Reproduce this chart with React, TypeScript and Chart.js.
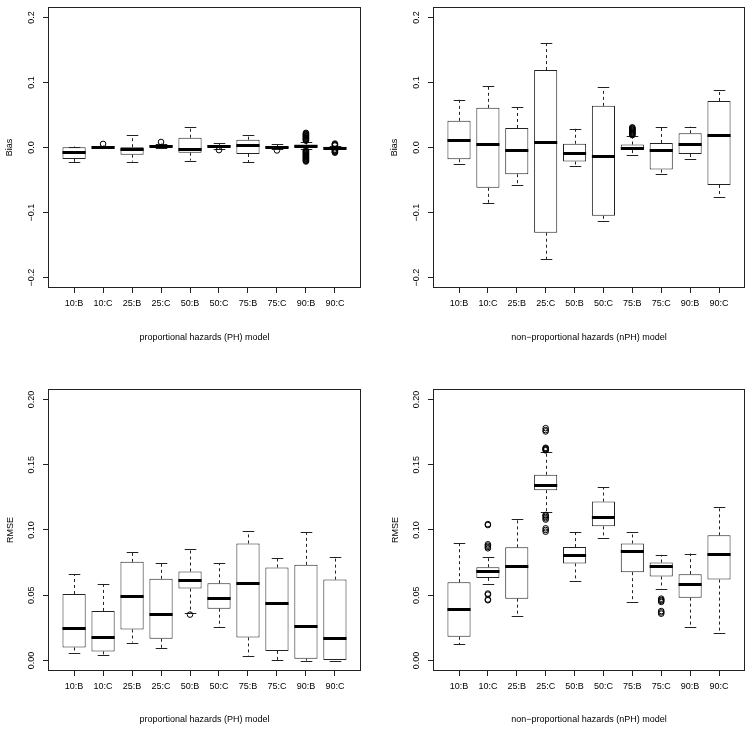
import React, { useEffect, useRef } from "react";
import { Chart, registerables } from "chart.js";

Chart.register(...registerables);

const FONT = '"Liberation Sans", Arial, Helvetica, sans-serif';
const LINE = "#222";

const CATEGORIES = ["10:B", "10:C", "25:B", "25:C", "50:B", "50:C", "75:B", "75:C", "90:B", "90:C"];

const BIAS_TICKS = [-0.2, -0.1, 0, 0.1, 0.2];
const BIAS_TICK_LABELS = ["\u22120.2", "\u22120.1", "0.0", "0.1", "0.2"];
const RMSE_TICKS = [0, 0.05, 0.1, 0.15, 0.2];
const RMSE_TICK_LABELS = ["0.00", "0.05", "0.10", "0.15", "0.20"];

// ---- PH model, Bias ----
const PH_BIAS_WLO = [-0.0227, -0.001, -0.0216, -0.001, -0.02, -0.002, -0.0227, -0.003, -0.003, -0.002];
const PH_BIAS_Q1 = [-0.0175, 0.0, -0.011, 0.001, -0.008, 0.0, -0.01, -0.001, 0.0005, -0.001];
const PH_BIAS_MED = [-0.0062, 0.001, -0.003, 0.0025, -0.002, 0.002, 0.0036, 0.0005, 0.0025, 0.0];
const PH_BIAS_Q3 = [0.0005, 0.002, 0.0005, 0.004, 0.015, 0.004, 0.012, 0.002, 0.0045, 0.001];
const PH_BIAS_WHI = [0.0015, 0.003, 0.0185, 0.006, 0.032, 0.007, 0.0185, 0.005, 0.009, 0.002];
const PH_BIAS_OUT = [
  [],
  [0.0055],
  [],
  [0.0085],
  [],
  [-0.004],
  [],
  [-0.0045],
  [0.0105, 0.0115, 0.0125, 0.0135, 0.0145, 0.0155, 0.0165, 0.0175, 0.0185, 0.0195, 0.0205, 0.0215, 0.0225,
    -0.0045, -0.0055, -0.0065, -0.0075, -0.0085, -0.0095, -0.0105, -0.0115, -0.0125, -0.0135, -0.0145, -0.0155, -0.0165, -0.0175, -0.0185, -0.0195, -0.0205, -0.0215],
  [0.003, 0.004, 0.005, 0.006, -0.003, -0.004, -0.005, -0.006, -0.007, -0.008],
];

// ---- nPH model, Bias ----
const NPH_BIAS_WLO = [-0.025, -0.085, -0.0575, -0.172, -0.029, -0.113, -0.012, -0.04, -0.017, -0.076];
const NPH_BIAS_Q1 = [-0.018, -0.062, -0.041, -0.131, -0.0216, -0.105, -0.004, -0.034, -0.01, -0.0576];
const NPH_BIAS_MED = [0.0113, 0.0057, -0.004, 0.008, -0.009, -0.013, 0.0, -0.004, 0.0057, 0.0195];
const NPH_BIAS_Q3 = [0.041, 0.061, 0.03, 0.119, 0.0057, 0.064, 0.0046, 0.007, 0.022, 0.0715];
const NPH_BIAS_WHI = [0.0735, 0.095, 0.062, 0.161, 0.029, 0.0925, 0.0175, 0.031, 0.032, 0.089];
const NPH_BIAS_OUT = [
  [], [], [], [], [], [],
  [0.019, 0.02, 0.021, 0.022, 0.023, 0.024, 0.025, 0.026, 0.027, 0.028, 0.029, 0.03, 0.031],
  [], [], [],
];

// ---- PH model, RMSE ----
const PH_RMSE_WLO = [0.0056, 0.004, 0.0138, 0.0097, 0.0362, 0.0254, 0.0036, 0.0005, 0.0, 0.0];
const PH_RMSE_Q1 = [0.01, 0.007, 0.0238, 0.0167, 0.0551, 0.0397, 0.0177, 0.0074, 0.0013, 0.0];
const PH_RMSE_MED = [0.025, 0.018, 0.0495, 0.0359, 0.0615, 0.0482, 0.0595, 0.0444, 0.0264, 0.0169];
const PH_RMSE_Q3 = [0.051, 0.038, 0.0756, 0.0626, 0.0682, 0.0592, 0.0897, 0.0713, 0.0733, 0.062];
const PH_RMSE_WHI = [0.066, 0.0587, 0.083, 0.0744, 0.0854, 0.0744, 0.0992, 0.0785, 0.0982, 0.0792];
const PH_RMSE_OUT = [[], [], [], [], [0.0352], [], [], [], [], []];

// ---- nPH model, RMSE ----
const NPH_RMSE_WLO = [0.0126, 0.0585, 0.0344, 0.1135, 0.0613, 0.0936, 0.0446, 0.0551, 0.0256, 0.0208];
const NPH_RMSE_Q1 = [0.0182, 0.0633, 0.0474, 0.1305, 0.0744, 0.1028, 0.0677, 0.0644, 0.0482, 0.062];
const NPH_RMSE_MED = [0.0395, 0.0685, 0.0723, 0.1344, 0.0805, 0.1103, 0.0841, 0.0726, 0.0585, 0.0818];
const NPH_RMSE_Q3 = [0.06, 0.0715, 0.0867, 0.1423, 0.0869, 0.1218, 0.0897, 0.0751, 0.0662, 0.0959];
const NPH_RMSE_WHI = [0.09, 0.0795, 0.1085, 0.16, 0.0982, 0.1328, 0.0982, 0.081, 0.082, 0.1174];
const NPH_RMSE_OUT = [
  [],
  [0.1045, 0.1038, 0.089, 0.088, 0.087, 0.086, 0.0513, 0.0505, 0.0468, 0.0462],
  [],
  [0.178, 0.1765, 0.1755, 0.163, 0.1625, 0.162, 0.1615, 0.161, 0.1115, 0.111, 0.11, 0.109, 0.108, 0.1013, 0.1, 0.0987],
  [], [], [],
  [0.0474, 0.0465, 0.0458, 0.0449, 0.0379, 0.0369, 0.0359],
  [], [],
];

const PH_TITLE = "proportional hazards (PH) model";
const NPH_TITLE = "non\u2212proportional hazards (nPH) model";

type Spec = {
  wlo: number[]; q1: number[]; med: number[]; q3: number[]; whi: number[]; out: number[][];
  yTicks: number[]; yTickLabels: string[]; yMin: number; yMax: number;
  yTitle: string; xTitle: string;
  pos: { x: number; y: number };
  left: number; top: number; right: number; xAxisH: number; xTitlePad: number; yTitlePad: number;
};

const W = 377;
const H = 366;

const PANELS: Spec[] = [
  {
    wlo: PH_BIAS_WLO, q1: PH_BIAS_Q1, med: PH_BIAS_MED, q3: PH_BIAS_Q3, whi: PH_BIAS_WHI, out: PH_BIAS_OUT,
    yTicks: BIAS_TICKS, yTickLabels: BIAS_TICK_LABELS, yMin: -0.216, yMax: 0.216,
    yTitle: "Bias", xTitle: PH_TITLE, pos: { x: 0, y: 0 },
    left: 48, top: 7, right: 16, xAxisH: 78, xTitlePad: 22.6, yTitlePad: 4.6,
  },
  {
    wlo: NPH_BIAS_WLO, q1: NPH_BIAS_Q1, med: NPH_BIAS_MED, q3: NPH_BIAS_Q3, whi: NPH_BIAS_WHI, out: NPH_BIAS_OUT,
    yTicks: BIAS_TICKS, yTickLabels: BIAS_TICK_LABELS, yMin: -0.216, yMax: 0.216,
    yTitle: "Bias", xTitle: NPH_TITLE, pos: { x: 377, y: 0 },
    left: 56, top: 7, right: 9, xAxisH: 78, xTitlePad: 22.6, yTitlePad: 12.6,
  },
  {
    wlo: PH_RMSE_WLO, q1: PH_RMSE_Q1, med: PH_RMSE_MED, q3: PH_RMSE_Q3, whi: PH_RMSE_WHI, out: PH_RMSE_OUT,
    yTicks: RMSE_TICKS, yTickLabels: RMSE_TICK_LABELS, yMin: -0.008, yMax: 0.208,
    yTitle: "RMSE", xTitle: PH_TITLE, pos: { x: 0, y: 366 },
    left: 48, top: 23, right: 16, xAxisH: 61, xTitlePad: 6.6, yTitlePad: 5.6,
  },
  {
    wlo: NPH_RMSE_WLO, q1: NPH_RMSE_Q1, med: NPH_RMSE_MED, q3: NPH_RMSE_Q3, whi: NPH_RMSE_WHI, out: NPH_RMSE_OUT,
    yTicks: RMSE_TICKS, yTickLabels: RMSE_TICK_LABELS, yMin: -0.008, yMax: 0.208,
    yTitle: "RMSE", xTitle: NPH_TITLE, pos: { x: 377, y: 366 },
    left: 56, top: 23, right: 9, xAxisH: 61, xTitlePad: 6.6, yTitlePad: 13.6,
  },
];

function BoxPanel({ spec }: { spec: Spec }) {
  const ref = useRef<HTMLCanvasElement>(null);

  useEffect(() => {
    const canvas = ref.current;
    if (!canvas) return;
    const s = spec;
    const snap = (v: number) => Math.round(v) + 0.5;

    const boxParts = {
      id: "boxParts",
      beforeDatasetsDraw(chart: any) {
        const { ctx } = chart;
        const xs = chart.scales.x;
        const ys = chart.scales.y;
        const meta = chart.getDatasetMeta(0);
        ctx.save();
        ctx.strokeStyle = LINE;
        ctx.lineWidth = 1;
        s.q1.forEach((_, i) => {
          const bar = meta.data[i];
          const cx = snap(xs.getPixelForValue(i + 1));
          const half = bar.width / 2;
          ctx.setLineDash([3, 3]);
          ctx.beginPath();
          ctx.moveTo(cx, ys.getPixelForValue(s.q3[i]));
          ctx.lineTo(cx, ys.getPixelForValue(s.whi[i]));
          ctx.moveTo(cx, ys.getPixelForValue(s.q1[i]));
          ctx.lineTo(cx, ys.getPixelForValue(s.wlo[i]));
          ctx.stroke();
          ctx.setLineDash([]);
          ctx.beginPath();
          const yHi = snap(ys.getPixelForValue(s.whi[i]));
          const yLo = snap(ys.getPixelForValue(s.wlo[i]));
          ctx.moveTo(cx - half / 2, yHi);
          ctx.lineTo(cx + half / 2, yHi);
          ctx.moveTo(cx - half / 2, yLo);
          ctx.lineTo(cx + half / 2, yLo);
          ctx.stroke();
        });
        ctx.restore();
      },
      afterDatasetsDraw(chart: any) {
        const { ctx, chartArea } = chart;
        const xs = chart.scales.x;
        const ys = chart.scales.y;
        const meta = chart.getDatasetMeta(0);
        ctx.save();
        // medians
        ctx.strokeStyle = "#000";
        ctx.lineWidth = 3;
        s.med.forEach((m, i) => {
          const bar = meta.data[i];
          const cx = xs.getPixelForValue(i + 1);
          const half = bar.width / 2;
          const py = Math.round(ys.getPixelForValue(m)) + 0.5;
          ctx.beginPath();
          ctx.moveTo(cx - half, py);
          ctx.lineTo(cx + half, py);
          ctx.stroke();
        });
        // frame
        ctx.strokeStyle = LINE;
        ctx.lineWidth = 1;
        ctx.strokeRect(
          chartArea.left + 0.5,
          chartArea.top + 0.5,
          chartArea.right - chartArea.left - 1,
          chartArea.bottom - chartArea.top - 1
        );
        // rotated y tick labels
        ctx.fillStyle = "#000";
        ctx.font = `9px ${FONT}`;
        ctx.textAlign = "center";
        ctx.textBaseline = "middle";
        ys.ticks.forEach((t: any) => {
          const idx = s.yTicks.findIndex((v) => Math.abs(v - t.value) < 1e-9);
          if (idx < 0) return;
          const py = ys.getPixelForValue(t.value);
          ctx.save();
          ctx.translate(chartArea.left - 16, py);
          ctx.rotate(-Math.PI / 2);
          ctx.fillText(s.yTickLabels[idx], 0, 0);
          ctx.restore();
        });
        ctx.restore();
      },
    };

    const boxData = s.q1.map((v, i) => ({ x: i + 1, y: [v, s.q3[i]] }));
    const outData = s.out.flatMap((arr, i) => arr.map((v) => ({ x: i + 1, y: v })));

    const chart = new Chart(canvas, {
      type: "bar",
      data: {
        datasets: [
          {
            type: "bar",
            data: boxData as any,
            backgroundColor: "#fff",
            borderColor: LINE,
            borderWidth: 1,
            borderSkipped: false,
            barPercentage: 0.8,
            categoryPercentage: 1.0,
            order: 2,
          } as any,
          {
            type: "line",
            data: outData as any,
            showLine: false,
            pointRadius: 2.8,
            pointHoverRadius: 2.8,
            pointBorderColor: "#000",
            pointBackgroundColor: "rgba(0,0,0,0)",
            pointBorderWidth: 1,
            order: 1,
          } as any,
        ],
      },
      options: {
        animation: false,
        responsive: false,
        devicePixelRatio: 1,
        events: [],
        layout: { padding: { top: s.top, right: s.right, left: 0, bottom: 0 } },
        plugins: { legend: { display: false }, tooltip: { enabled: false } },
        scales: {
          x: {
            type: "linear",
            min: 0.1,
            max: 10.9,
            offset: false,
            afterBuildTicks: (sc: any) => {
              sc.ticks = CATEGORIES.map((_, i) => ({ value: i + 1 }));
            },
            afterFit: (sc: any) => {
              sc.height = s.xAxisH;
            },
            ticks: {
              autoSkip: false,
              maxRotation: 0,
              minRotation: 0,
              padding: 5,
              color: "#000",
              font: { size: 9, family: FONT },
              callback: (v: any) => CATEGORIES[Number(v) - 1] ?? "",
            },
            grid: { drawOnChartArea: false, drawTicks: true, tickLength: 5, color: LINE, offset: false },
            border: { display: false },
            title: {
              display: true,
              text: s.xTitle,
              color: "#000",
              font: { size: 9, family: FONT },
              padding: { top: 0, bottom: s.xTitlePad },
            },
          } as any,
          y: {
            type: "linear",
            min: s.yMin,
            max: s.yMax,
            afterBuildTicks: (sc: any) => {
              sc.ticks = s.yTicks.map((v) => ({ value: v }));
            },
            afterFit: (sc: any) => {
              sc.width = s.left;
            },
            ticks: { display: false },
            grid: { drawOnChartArea: false, drawTicks: true, tickLength: 5, color: LINE },
            border: { display: false },
            title: {
              display: true,
              text: s.yTitle,
              color: "#000",
              font: { size: 9, family: FONT },
              padding: { top: s.yTitlePad, bottom: 0 },
            },
          } as any,
        },
      },
      plugins: [boxParts as any],
    });

    return () => chart.destroy();
  }, [spec]);

  return (
    <canvas
      ref={ref}
      width={W}
      height={H}
      style={{ position: "absolute", left: spec.pos.x, top: spec.pos.y, width: W, height: H }}
    />
  );
}

export default function App() {
  return (
    <div style={{ position: "fixed", left: 0, top: 0, width: 754, height: 732, background: "#fff" }}>
      {PANELS.map((p, i) => (
        <BoxPanel key={i} spec={p} />
      ))}
    </div>
  );
}
